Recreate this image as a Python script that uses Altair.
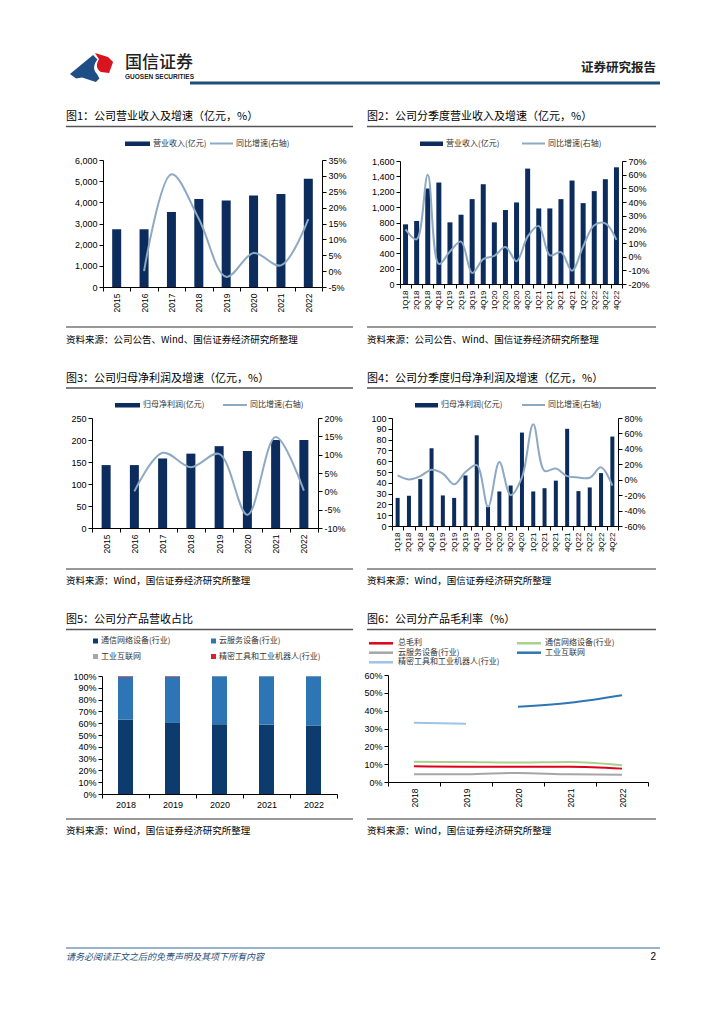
import altair as alt
import pandas as pd

CJK = "Noto Sans CJK SC"
LAT = "Liberation Sans"
OX, OY = 8, 8          # page margin: panel coords = page coords - 8
W, H = 708, 1008

NAVY = "#0b2c5c"
LINEC = "#8ea9c3"

# ---------------- data ----------------
years = ["2015", "2016", "2017", "2018", "2019", "2020", "2021", "2022"]
revenue = [2728, 2728, 3545, 4154, 4087, 4318, 4396, 5118]
revenue_growth = [None, 0.0, 30.5, 16.5, -1.8, 5.7, 1.8, 16.4]

quarters = ["1Q18", "2Q18", "3Q18", "4Q18", "1Q19", "2Q19", "3Q19", "4Q19",
            "1Q20", "2Q20", "3Q20", "4Q20", "1Q21", "2Q21", "3Q21", "4Q21",
            "1Q22", "2Q22", "3Q22", "4Q22"]
q_revenue = [776, 820, 1242, 1320, 802, 901, 1104, 1298,
             802, 962, 1061, 1501, 983, 983, 1104, 1346,
             1052, 1208, 1363, 1518]
q_revenue_growth = [20.0, 12.7, 60.0, -5.4, 3.8, 11.0, -12.0, -1.8,
                    0.6, 7.0, -3.3, 14.7, 22.5, 1.0, 3.3, -10.3,
                    7.4, 23.0, 24.4, 12.3]

profit = [143, 143, 158, 169, 186, 175, 200, 200]
profit_growth = [None, 0.0, 10.5, 6.6, 10.2, -6.4, 14.8, 0.2]

q_profit = [26, 28, 43.4, 72, 28.3, 26, 46.8, 84,
            17.8, 32, 37.5, 86.5, 32, 35, 42, 90,
            32.3, 35.7, 49, 82.8]
q_profit_growth = [5.5, 0.3, 4.6, 13.0, 8.0, -6.0, 10.0, 19.0,
                   -35.0, 23.0, -20.0, 3.0, 72.0, 11.5, 14.5, 4.6,
                   2.9, 2.5, 16.0, -7.6]

mix_years = ["2018", "2019", "2020", "2021", "2022"]
mix_segments = ["通信网络设备(行业)", "云服务设备(行业)", "工业互联网", "精密工具和工业机器人(行业)"]
mix_comm = [63.2, 60.2, 59.2, 59.0, 58.0]
mix_cloud = [36.3, 39.4, 40.6, 40.8, 41.8]
mix_iiot = [0.0, 0.0, 0.2, 0.2, 0.2]
mix_precision = [0.5, 0.4, 0.0, 0.0, 0.0]
mix_colors = ["#0d3b6e", "#2e75b6", "#a6a6a6", "#e0202e"]

margin_series = ["总毛利", "通信网络设备(行业)", "云服务设备(行业)", "工业互联网", "精密工具和工业机器人(行业)"]
gm_total = [8.8, 8.6, 8.6, 8.6, 7.5]
gm_comm = [11.3, 11.2, 10.9, 11.2, 9.4]
gm_cloud = [4.3, 4.3, 5.1, 4.3, 4.1]
gm_iiot = [None, None, 42.2, 44.4, 48.6]
gm_precision = [33.2, 32.6, None, None, None]
margin_colors = ["#e0001b", "#a9d18e", "#a6a6a6", "#2e75b6", "#9dc3e6"]


# ---------------- helpers ----------------
def px(x):
    return x - OX


def py(y):
    return y - OY


def T(s, x, y, size=8, color="#000", align="left", font=CJK, weight="normal", style="normal"):
    return alt.Chart(alt.Data(values=[{"t": s}])).mark_text(
        align=align, baseline="middle", fontSize=size, font=font,
        fontWeight=weight, fontStyle=style, color=color
    ).encode(x=alt.value(px(x)), y=alt.value(py(y)), text="t:N")


def R(x1, x2, y, color, w=1):
    return alt.Chart(alt.Data(values=[{}])).mark_rule(color=color, strokeWidth=w).encode(
        x=alt.value(px(x1)), x2=alt.value(px(x2)), y=alt.value(py(y)))


def B(x1, x2, y1, y2, color):
    return alt.Chart(alt.Data(values=[{}])).mark_rect(color=color).encode(
        x=alt.value(px(x1)), x2=alt.value(px(x2)), y=alt.value(py(y1)), y2=alt.value(py(y2)))


def xaxis(box, angle=270, size=8.5):
    x0, y0, x1, y1 = box
    return alt.Axis(title=None, orient="bottom", offset=py(y1) - H, labelAngle=angle,
                    tickBand="extent", labelFontSize=size, labelPadding=2)


def combo(cats, bars, growth, box, ydom, yvals, rdom, rvals, bar_size, xsize=8.5):
    x0, y0, x1, y1 = box
    df = pd.DataFrame({"cat": cats, "val": bars, "g": growth})
    X = alt.X("cat:N", sort=cats,
              scale=alt.Scale(domain=cats, range=[px(x0), px(x1)], paddingInner=0, paddingOuter=0),
              axis=xaxis(box, 270, xsize))
    bar = alt.Chart(df).mark_bar(size=bar_size, color=NAVY).encode(
        x=X,
        y=alt.Y("val:Q", scale=alt.Scale(domain=ydom, range=[py(y1), py(y0)], nice=False),
                axis=alt.Axis(title=None, orient="left", offset=-px(x0), values=yvals, format=",d")))
    line = alt.Chart(df).transform_filter("isValid(datum.g)").mark_line(
        color=LINEC, strokeWidth=2, interpolate="catmull-rom").encode(
        x=X,
        y=alt.Y("g:Q", scale=alt.Scale(domain=rdom, range=[py(y1), py(y0)], nice=False, zero=False),
                axis=alt.Axis(title=None, orient="right", offset=px(x1) - W, values=rvals,
                              labelExpr="datum.value + '%'")))
    return alt.layer(bar, line).resolve_scale(y="independent")


# ---------------- charts ----------------
c1 = combo(years, revenue, revenue_growth, (103, 160, 322, 287),
           [0, 6000], list(range(0, 6001, 1000)), [-5, 35], list(range(-5, 36, 5)), 9)
c2 = combo(quarters, q_revenue, q_revenue_growth, (400, 161, 622, 284),
           [0, 1600], list(range(0, 1601, 200)), [-20, 70], list(range(-20, 71, 10)), 5, 8)
c3 = combo(years, profit, profit_growth, (92, 418, 318, 528),
           [0, 250], list(range(0, 251, 50)), [-10, 20], list(range(-10, 21, 5)), 9)
c4 = combo(quarters, q_profit, q_profit_growth, (392, 418, 618, 526),
           [0, 100], list(range(0, 101, 10)), [-60, 80], list(range(-60, 81, 20)), 4, 8)

# chart 5: stacked share
rows = []
for i, yr in enumerate(mix_years):
    for k, (seg, arr) in enumerate(zip(mix_segments, [mix_comm, mix_cloud, mix_iiot, mix_precision])):
        rows.append({"year": yr, "seg": seg, "idx": k, "val": arr[i]})
mix_df = pd.DataFrame(rows)
box5 = (102, 676, 337, 794)
c5 = alt.Chart(mix_df).mark_bar(size=15).encode(
    x=alt.X("year:N", sort=mix_years,
            scale=alt.Scale(domain=mix_years, range=[px(box5[0]), px(box5[2])], paddingInner=0, paddingOuter=0),
            axis=xaxis(box5, 0, 9)),
    y=alt.Y("val:Q", stack="zero",
            scale=alt.Scale(domain=[0, 100], range=[py(box5[3]), py(box5[1])], nice=False),
            axis=alt.Axis(title=None, orient="left", offset=-px(box5[0]), values=list(range(0, 101, 10)),
                          labelExpr="datum.value + '%'")),
    color=alt.Color("seg:N", scale=alt.Scale(domain=mix_segments, range=mix_colors), legend=None),
    order=alt.Order("idx:Q", sort="ascending"))

# chart 6: gross margin lines
rows = []
for seg, arr in zip(margin_series, [gm_total, gm_comm, gm_cloud, gm_iiot, gm_precision]):
    for yr, v in zip(mix_years, arr):
        if v is not None:
            rows.append({"year": yr, "seg": seg, "val": v})
gm_df = pd.DataFrame(rows)
box6 = (388, 675, 648, 782)
c6 = alt.Chart(gm_df).mark_line(strokeWidth=2, interpolate="monotone").encode(
    x=alt.X("year:N", sort=mix_years,
            scale=alt.Scale(domain=mix_years, range=[px(box6[0]), px(box6[2])], paddingInner=0, paddingOuter=0),
            axis=xaxis(box6, 270, 8.5)),
    y=alt.Y("val:Q", scale=alt.Scale(domain=[0, 60], range=[py(box6[3]), py(box6[1])], nice=False),
            axis=alt.Axis(title=None, orient="left", offset=-px(box6[0]), values=list(range(0, 61, 10)),
                          labelExpr="datum.value + '%'")),
    color=alt.Color("seg:N", scale=alt.Scale(domain=margin_series, range=margin_colors), legend=None),
    detail="seg:N")

# ---------------- page decorations ----------------
blue_path = "M -0.98 0.3 L 0.07 -0.57 L 0.27 -0.36 C 0.1 -0.15 0.05 0.1 0.25 0.3 L 0.36 0.5 L 0.2 0.66 L -0.43 0.45 L -0.7 0.5 Z"
red_path = "M 0.16 -0.66 L 0.75 -0.48 L 0.98 -0.25 L 0.8 0.25 L 0.43 0.2 C 0.2 0.05 0.2 -0.15 0.34 -0.38 Z"
logo = [
    alt.Chart(alt.Data(values=[{}])).mark_point(shape=blue_path, size=1936, filled=True, color="#1f4e86",
                                                 opacity=1, strokeWidth=0).encode(
        x=alt.value(px(91.5)), y=alt.value(py(67.5))),
    alt.Chart(alt.Data(values=[{}])).mark_point(shape=red_path, size=1936, filled=True, color="#d7141f",
                                                 opacity=1, strokeWidth=0).encode(
        x=alt.value(px(91.5)), y=alt.value(py(67.5))),
]

src1 = "资料来源：公司公告、Wind、国信证券经济研究所整理"
src2 = "资料来源：Wind，国信证券经济研究所整理"

deco = logo + [
    T("国信证券", 125, 62.5, 17, "#222", weight=500),
    T("GUOSEN SECURITIES", 125, 77, 6.5, "#222", font=LAT, weight="bold"),
    T("证券研究报告", 656, 68, 12.5, "#222", align="right", weight="bold"),
    R(190, 660, 83, "#1f4e79", 3),
    # titles
    T("图1：公司营业收入及增速（亿元，%）", 66, 117, 11),
    T("图2：公司分季度营业收入及增速（亿元，%）", 367, 117, 11),
    T("图3：公司归母净利润及增速（亿元，%）", 66, 378.5, 11),
    T("图4：公司分季度归母净利润及增速（亿元，%）", 367, 378.5, 11),
    T("图5：公司分产品营收占比", 66, 620, 11),
    T("图6：公司分产品毛利率（%）", 367, 620, 11),
    R(66, 353, 126.5, "#555", 1.5), R(367, 656, 126.5, "#555", 1.5),
    R(66, 353, 388, "#555", 1.5), R(367, 656, 388, "#555", 1.5),
    R(66, 353, 629.5, "#555", 1.5), R(367, 656, 629.5, "#555", 1.5),
    # sources
    R(66, 353, 327, "#333", 1), R(367, 656, 327, "#333", 1),
    T(src1, 66, 339.5, 9.5), T(src1, 367, 339.5, 9.5),
    R(66, 353, 569, "#333", 1), R(367, 656, 569, "#333", 1),
    T(src2, 66, 581, 9.5), T(src2, 367, 581, 9.5),
    R(66, 353, 819, "#333", 1), R(367, 656, 819, "#333", 1),
    T(src2, 66, 831, 9.5), T(src2, 367, 831, 9.5),
    # legends chart 1-4
    B(125, 150, 141.5, 146, NAVY), T("营业收入(亿元)", 153, 143.5, 8, "#333"),
    R(210, 233, 143.5, LINEC, 2), T("同比增速(右轴)", 236, 143.5, 8, "#333"),
    B(420, 443, 141.5, 146, NAVY), T("营业收入(亿元)", 446, 143.5, 8, "#333"),
    R(522, 545, 143.5, LINEC, 2), T("同比增速(右轴)", 548, 143.5, 8, "#333"),
    B(115, 140, 403, 407.5, NAVY), T("归母净利润(亿元)", 143, 405, 8, "#333"),
    R(223, 247, 405, LINEC, 2), T("同比增速(右轴)", 250, 405, 8, "#333"),
    B(415, 438, 403, 407.5, NAVY), T("归母净利润(亿元)", 441, 405, 8, "#333"),
    R(522, 545, 405, LINEC, 2), T("同比增速(右轴)", 548, 405, 8, "#333"),
    # legend chart 5
    B(93, 98, 638.5, 643.5, mix_colors[0]), T(mix_segments[0], 101, 641, 8, "#333"),
    B(211, 216, 638.5, 643.5, mix_colors[1]), T(mix_segments[1], 219, 641, 8, "#333"),
    B(93, 98, 654, 659, mix_colors[2]), T(mix_segments[2], 101, 656.5, 8, "#333"),
    B(211, 216, 654, 659, mix_colors[3]), T(mix_segments[3], 219, 656.5, 8, "#333"),
    # legend chart 6
    R(369, 393, 643.3, margin_colors[0], 2.5), T(margin_series[0], 398, 643.3, 8, "#333"),
    R(517, 541, 643.3, margin_colors[1], 2.5), T(margin_series[1], 545, 643.3, 8, "#333"),
    R(369, 393, 652.7, margin_colors[2], 2.5), T(margin_series[2], 398, 652.7, 8, "#333"),
    R(517, 541, 652.7, margin_colors[3], 2.5), T(margin_series[3], 545, 652.7, 8, "#333"),
    R(369, 393, 662.3, margin_colors[4], 2.5), T(margin_series[4], 398, 662.3, 8, "#333"),
    # footer
    R(66, 660, 948, "#336699", 1),
    T("请务必阅读正文之后的免责声明及其项下所有内容", 66, 957, 9, "#1f4e79", style="italic"),
    T("2", 656, 957, 10, "#000", align="right", font=LAT),
]

chart = alt.layer(c1, c2, c3, c4, c5, c6, *deco).resolve_scale(
    x="independent", y="independent", color="independent"
).properties(
    width=W, height=H, padding=0,
    autosize=alt.AutoSizeParams(type="none"),
).configure(background="white").configure_view(stroke=None).configure_axis(
    grid=False, domainColor="#000", tickColor="#000", labelColor="#000",
    labelFont=LAT, labelFontSize=9, tickSize=4, labelPadding=2, domainWidth=1,
)

chart.save("out.html", embed_options={"renderer": "svg", "actions": False})
